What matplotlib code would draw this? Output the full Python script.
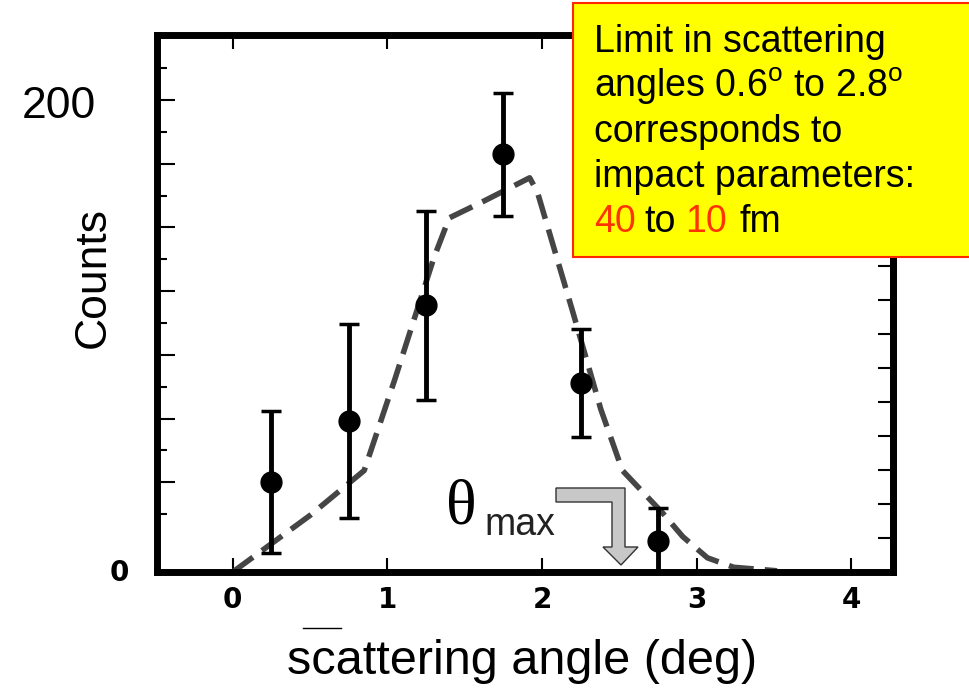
import matplotlib
matplotlib.use('Agg')
import matplotlib.pyplot as plt
from matplotlib.patches import Polygon, Rectangle
from matplotlib.lines import Line2D
import numpy as np

plt.rcParams['font.family'] = ['Liberation Sans', 'DejaVu Sans']
plt.rcParams['mathtext.fontset'] = 'custom'
plt.rcParams['mathtext.rm'] = 'Liberation Sans'

# measured data points (scattering angle in deg, counts)
angle = [0.25, 0.75, 1.25, 1.75, 2.25, 2.75]
counts = [38, 64, 113, 177, 80, 13]
err_lo = [30, 41, 40, 26, 23, 13]
err_hi = [30, 41, 40, 26, 23, 14]

# dashed calculation curve
fit_x = [0.0, 0.5, 0.85, 1.05, 1.3, 1.4, 1.62, 1.92, 1.97, 2.2, 2.38, 2.52, 2.78, 2.91, 3.07, 3.24, 3.52]
fit_y = [0, 24, 43, 82, 133, 150, 157, 167, 161, 110, 69, 43, 25, 15, 6, 2, 0.5]

x_ticks = [0, 1, 2, 3, 4]
x_labels = ['0', '1', '2', '3', '4']

box_lines = ['Limit in scattering',
             'angles 0.6$^{\\mathrm{o}}$ to 2.8$^{\\mathrm{o}}$',
             'corresponds to',
             'impact parameters:']

W, H = 969, 695
def fx(px):
    return px / W
def fy(py):
    return 1 - py / H

fig = plt.figure(figsize=(9.69, 6.95), dpi=100)
ax = fig.add_axes([fx(157), fy(572), fx(893) - fx(157), fy(35) - fy(572)])
ax.set_xlim(-0.49, 4.27)
ax.set_ylim(0, 227.5)

for s in ax.spines.values():
    s.set_linewidth(5)

ax.plot(fit_x, fit_y, color='#454545', lw=4, dashes=(4.5, 2), dash_capstyle='butt', zorder=2)
ax.errorbar(angle, counts, yerr=[err_lo, err_hi], fmt='o', color='black', ms=15,
            elinewidth=3.5, capsize=7, capthick=2.5, zorder=3)

ax.set_xticks(x_ticks)
ax.set_xticklabels(x_labels, fontsize=20, fontweight='bold', family='DejaVu Sans')
ax.tick_params(axis='x', direction='in', length=10, width=1.5, top=True, pad=10)

# left ticks: long/short alternating, labels drawn separately
ax.set_yticks(np.arange(38, 201, 27))
ax.set_yticks(np.arange(24.5, 215, 27), minor=True)
ax.tick_params(axis='y', which='major', direction='in', length=13, width=1.5,
               labelleft=False, right=False)
ax.tick_params(axis='y', which='minor', direction='in', length=7, width=1.5, right=False)

secy = ax.secondary_yaxis('right')
secy.set_yticks(np.arange(14.4, 228, 14.4))
secy.tick_params(direction='in', length=11, width=1.5, labelright=False)
secy.spines['right'].set_linewidth(5)

# axis texts
fig.text(fx(119), fy(573), '0', fontsize=20, fontweight='bold', family='DejaVu Sans',
         ha='center', va='center')
fig.text(fx(22), fy(118), '200', fontsize=32, va='baseline')
fig.text(fx(93), fy(277), 'Counts', fontsize=32, rotation=90, ha='center', va='center')
fig.text(fx(522), fy(662), 'scattering angle (deg)', fontsize=35, ha='center', va='center')
fig.add_artist(Line2D([fx(303), fx(341)], [fy(628), fy(628)], lw=1, color='black'))

# theta_max marker with bent arrow
fig.text(fx(446), fy(523), '\u03b8', fontsize=46, family='Liberation Serif', va='baseline')
fig.text(fx(484), fy(535), 'max', fontsize=27, va='baseline', color='#222222')
arrow_px = [(556, 488), (625, 488), (625, 547), (638, 547), (621, 565),
            (603, 547), (612, 547), (612, 502), (556, 502)]
fig.add_artist(Polygon([(fx(a), fy(b)) for a, b in arrow_px], closed=True,
                       transform=fig.transFigure, facecolor='#c8c8c8',
                       edgecolor='#333333', lw=1, zorder=4))

# yellow note box
fig.add_artist(Rectangle((fx(573), fy(257)), 0.5, fy(3) - fy(257), transform=fig.transFigure,
                         facecolor='#ffff00', edgecolor='#ff2a00', lw=1.5, zorder=5))
for i, line in enumerate(box_lines):
    fig.text(fx(594), fy(52 + 45 * i), line, fontsize=27, va='baseline', zorder=6)
last = [('40', '#ff3300', 594), ('to', 'black', 644), ('10', '#ff3300', 685), ('fm', 'black', 740)]
for word, col, px in last:
    fig.text(fx(px), fy(232), word, fontsize=27, color=col, va='baseline', zorder=6)

fig.savefig('out.png', dpi=100)
